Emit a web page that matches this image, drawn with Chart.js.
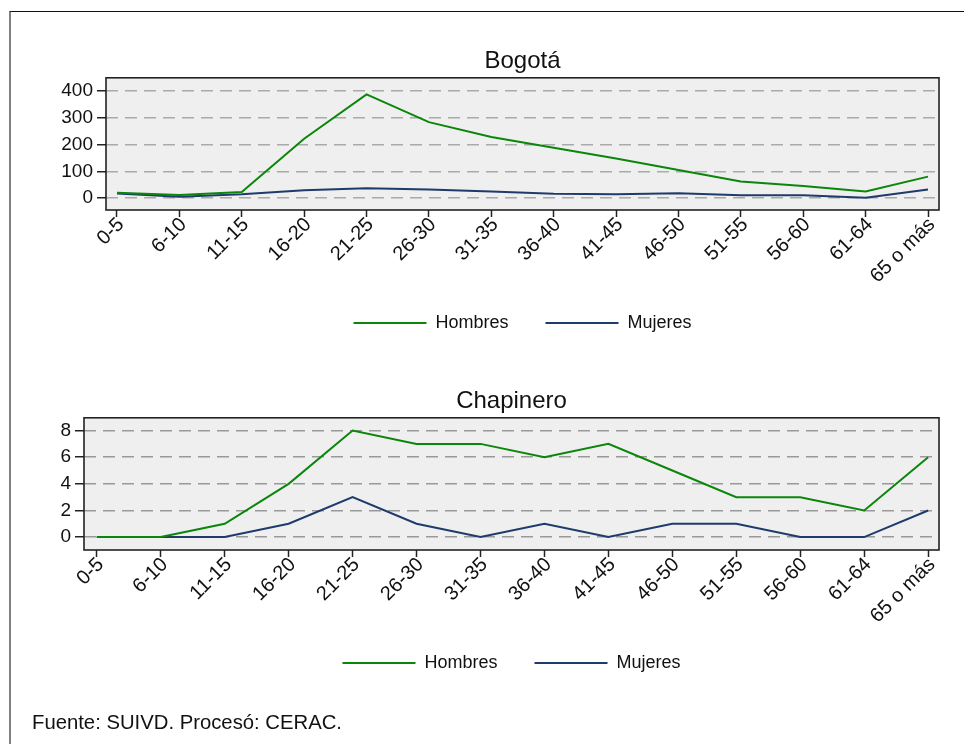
<!DOCTYPE html>
<html>
<head>
<meta charset="utf-8">
<script src="https://cdn.jsdelivr.net/npm/chart.js@4.4.1/dist/chart.umd.min.js"></script>
<style>
  html, body { margin: 0; padding: 0; background: #fff; }
  body { width: 964px; height: 744px; position: relative; overflow: hidden; font-family: "Liberation Sans", Arial, sans-serif; }
  #frame { position: absolute; left: 9px; top: 11px; width: 955px; height: 733px; border-top: 1.5px solid #111; border-left: 2px solid #808080; box-sizing: border-box; }
  canvas { position: absolute; }
  #c1 { top: 0; left: 46px; }
  #c2 { top: 340px; left: 24px; }
  #foot { position: absolute; left: 32px; top: 712px; font-size: 20.3px; line-height: 20px; color: #111; white-space: nowrap; }
</style>
</head>
<body>
<div id="frame"></div>
<canvas id="c1" width="953" height="372"></canvas>
<canvas id="c2" width="975" height="372"></canvas>
<div id="foot">Fuente: SUIVD. Procesó: CERAC.</div>
<script>
const ageGroups = ["0-5","6-10","11-15","16-20","21-25","26-30","31-35","36-40","41-45","46-50","51-55","56-60","61-64","65 o más"];
const seriesNames = ["Hombres", "Mujeres"];
const bogotaHombres = [20, 11, 22, 222, 388, 284, 228, 188, 148, 105, 62, 45, 24, 80];
const bogotaMujeres = [17, 5, 14, 29, 36, 32, 24, 16, 14, 18, 10, 10, 1, 32];
const chapineroHombres = [0, 0, 1, 4, 8, 7, 7, 6, 7, 5, 3, 3, 2, 6];
const chapineroMujeres = [0, 0, 0, 1, 3, 1, 0, 1, 0, 1, 1, 0, 0, 2];
const bogotaTicks = [0, 100, 200, 300, 400];
const chapineroTicks = [0, 2, 4, 6, 8];

const FONT = "'Liberation Sans', Arial, sans-serif";
const GREEN = "#0b860b";
const NAVY = "#1f3b6b";
const AXIS_W = 60;
const LEGEND_SHIFT = 23;

const plotFrame = {
  id: "plotFrame",
  afterLayout(chart) {
    const l = chart.legend;
    if (l) { l.top -= LEGEND_SHIFT; l.bottom -= LEGEND_SHIFT; }
  },
  beforeDraw(chart) {
    const { ctx, chartArea: a } = chart;
    ctx.save();
    ctx.fillStyle = "#efefef";
    ctx.fillRect(a.left, a.top, a.right - a.left, a.bottom - a.top);
    ctx.restore();
  },
  afterDraw(chart) {
    const { ctx, chartArea: a } = chart;
    ctx.save();
    ctx.strokeStyle = "#222";
    ctx.lineWidth = 1.6;
    ctx.strokeRect(a.left, a.top, a.right - a.left, a.bottom - a.top);
    ctx.restore();
  }
};

function toPoints(vals) { return vals.map((v, i) => ({ x: i, y: v })); }

function makeChart(id, title, hombres, mujeres, yTicks, yMin, yMax, xMin, xMax, gridColor) {
  return new Chart(document.getElementById(id), {
    type: "line",
    data: {
      datasets: [
        { label: seriesNames[0], data: toPoints(hombres), borderColor: GREEN, backgroundColor: GREEN, borderWidth: 2, pointRadius: 0, tension: 0 },
        { label: seriesNames[1], data: toPoints(mujeres), borderColor: NAVY, backgroundColor: NAVY, borderWidth: 2, pointRadius: 0, tension: 0 }
      ]
    },
    options: {
      responsive: false,
      animation: false,
      devicePixelRatio: 1,
      layout: { padding: { left: 0, right: 0, top: 0, bottom: 7 } },
      plugins: {
        title: { display: true, text: title, color: "#111", font: { family: FONT, size: 24, weight: "normal" }, padding: { top: 47, bottom: 2 } },
        legend: {
          position: "bottom",
          labels: { usePointStyle: true, pointStyle: "line", pointStyleWidth: 73, color: "#111", font: { family: FONT, size: 18 }, padding: 37 }
        },
        tooltip: { enabled: false }
      },
      scales: {
        x: {
          type: "linear",
          min: xMin, max: xMax,
          afterBuildTicks: (s) => { s.ticks = ageGroups.map((_, i) => ({ value: i })); },
          afterFit: (s) => { s.height = 90; s.paddingLeft = 0; s.paddingRight = 0; },
          ticks: { autoSkip: false, minRotation: 45, maxRotation: 45, padding: -4, labelOffset: 4, color: "#111", font: { family: FONT, size: 20 },
            callback: (v) => ageGroups[v] },
          grid: { drawOnChartArea: false, drawTicks: true, tickLength: 7, tickColor: "#222", tickWidth: 1.5 },
          border: { display: false }
        },
        y: {
          position: "left",
          min: yMin, max: yMax,
          afterBuildTicks: (s) => { s.ticks = yTicks.map(v => ({ value: v })); },
          afterFit: (s) => { s.width = AXIS_W; s.paddingTop = 0; s.paddingBottom = 0; },
          ticks: { padding: 4, color: "#111", font: { family: FONT, size: 19 } },
          grid: { color: gridColor, lineWidth: 1.5, tickLength: 9, tickColor: "#222", tickWidth: 1.5, tickBorderDash: [] },
          border: { display: false, dash: [12, 7] }
        },
        yRight: {
          position: "right",
          display: true,
          afterFit: (s) => { s.width = AXIS_W; s.paddingTop = 0; s.paddingBottom = 0; },
          ticks: { display: false },
          grid: { drawOnChartArea: false, drawTicks: false },
          border: { display: false }
        }
      }
    },
    plugins: [plotFrame]
  });
}

makeChart("c1", "Bogotá", bogotaHombres, bogotaMujeres, bogotaTicks, -45, 450, -0.176, 13.176, "#aaaaaa");
makeChart("c2", "Chapinero", chapineroHombres, chapineroMujeres, chapineroTicks, -0.97, 8.96, -0.2, 13.17, "#999999");
</script>
</body>
</html>
